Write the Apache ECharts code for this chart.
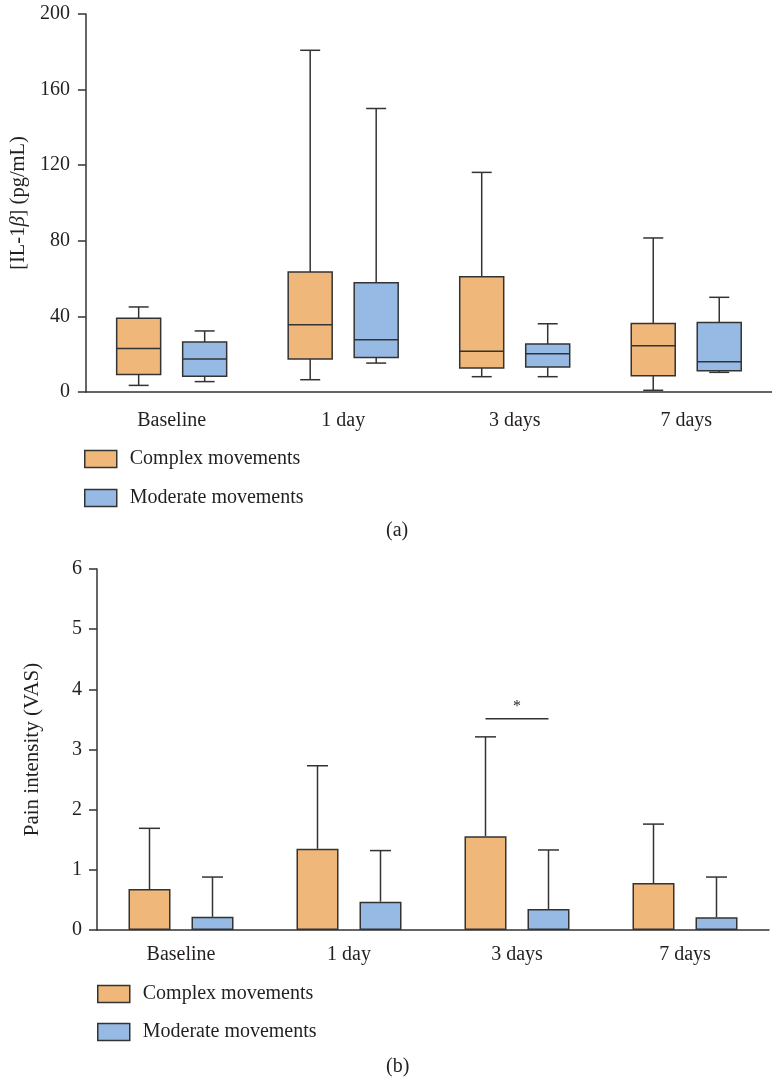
<!DOCTYPE html>
<html><head><meta charset="utf-8">
<script src="https://cdn.jsdelivr.net/npm/echarts@6/dist/echarts.min.js"></script>
<style>html,body{margin:0;padding:0;background:#fff}#c{width:772px;height:1081px}</style>
</head><body><div id="c"></div>
<script>
// ---------- data ----------
const categories = ['Baseline', '1 day', '3 days', '7 days'];
const seriesNames = ['Complex movements', 'Moderate movements'];
// IL-1β boxplots: [min, Q1, median, Q3, max]
const il1bComplex = [
  [3.5, 9.2, 23, 39, 45],
  [6.5, 17.5, 35.6, 63.5, 180.8],
  [8.1, 12.7, 21.5, 61, 116.2],
  [0.9, 8.6, 24.5, 36.3, 81.5]
];
const il1bModerate = [
  [5.5, 8.3, 17.5, 26.5, 32.3],
  [15.3, 18.2, 27.7, 57.8, 150],
  [8.1, 13.2, 20.3, 25.4, 36.1],
  [10.4, 11.3, 16, 36.8, 50.1]
];
// VAS: mean and upper error bar end
const vasComplexMean = [0.68, 1.35, 1.56, 0.78];
const vasComplexUpper = [1.69, 2.73, 3.21, 1.76];
const vasModerateMean = [0.22, 0.47, 0.35, 0.21];
const vasModerateUpper = [0.88, 1.32, 1.33, 0.88];
// significance bracket
const sigCategory = 2;
const sigLevel = 3.51;
const sigLabel = '*';
const panelLabels = ['(a)', '(b)'];

// ---------- styles ----------
const ORANGE = '#F0B77B', BLUE = '#97BAE4', INK = '#333333', TXT = '#231F20';
const FONT = 'Liberation Serif';
const FS = 20;

function boxSeries(name, data, offset, color) {
  return {
    type: 'custom', name: name, xAxisIndex: 0, yAxisIndex: 0, z: 5,
    data: data.map((d, i) => [i].concat(d)),
    encode: { x: 0, y: [1, 2, 3, 4, 5] },
    itemStyle: { color: color },
    renderItem: function (params, api) {
      const i = api.value(0);
      const p = k => api.coord([i, api.value(k)]);
      const c = p(1)[0] + offset;
      const yMin = p(1)[1], yQ1 = p(2)[1], yMed = p(3)[1], yQ3 = p(4)[1], yMax = p(5)[1];
      const hw = 22, cw = 10;
      const ls = { stroke: INK, lineWidth: 1.5 };
      return { type: 'group', children: [
        { type: 'line', shape: { x1: c, y1: yMax, x2: c, y2: yQ3 }, style: ls },
        { type: 'line', shape: { x1: c, y1: yQ1, x2: c, y2: yMin }, style: ls },
        { type: 'line', shape: { x1: c - cw, y1: yMax, x2: c + cw, y2: yMax }, style: ls },
        { type: 'line', shape: { x1: c - cw, y1: yMin, x2: c + cw, y2: yMin }, style: ls },
        { type: 'rect', shape: { x: c - hw, y: yQ3, width: 2 * hw, height: yQ1 - yQ3 }, style: { fill: color, stroke: INK, lineWidth: 1.5 } },
        { type: 'line', shape: { x1: c - hw, y1: yMed, x2: c + hw, y2: yMed }, style: ls }
      ]};
    }
  };
}

function errSeries(name, means, uppers, offset) {
  return {
    type: 'custom', name: name + ' error', xAxisIndex: 1, yAxisIndex: 1, z: 6,
    data: means.map((m, i) => [i, m, uppers[i]]),
    encode: { x: 0, y: [1, 2] },
    renderItem: function (params, api) {
      const i = api.value(0);
      const a = api.coord([i, api.value(1)]);
      const b = api.coord([i, api.value(2)]);
      const c = a[0] + offset;
      const ls = { stroke: INK, lineWidth: 1.5 };
      return { type: 'group', children: [
        { type: 'line', shape: { x1: c, y1: a[1], x2: c, y2: b[1] }, style: ls },
        { type: 'line', shape: { x1: c - 10.5, y1: b[1], x2: c + 10.5, y2: b[1] }, style: ls }
      ]};
    }
  };
}

const axisText = { fontFamily: FONT, fontSize: FS, color: TXT };
const lineSt = { color: INK, width: 1.5 };

function xAxis(grid, margin) {
  return {
    gridIndex: grid, type: 'category', data: categories,
    axisLine: { lineStyle: lineSt },
    axisTick: { alignWithLabel: true, length: 7, lineStyle: lineSt },
    axisLabel: Object.assign({ margin: margin }, axisText),
    splitLine: { show: false }
  };
}

const legendItems = [
  { name: seriesNames[0], icon: 'rect', itemStyle: { color: ORANGE, borderColor: INK, borderWidth: 1.5 } },
  { name: seriesNames[1], icon: 'rect', itemStyle: { color: BLUE, borderColor: INK, borderWidth: 1.5 } }
];
function legend(left, top, gap) {
  return {
    orient: 'vertical', left: left, top: top, padding: 0,
    itemWidth: 32, itemHeight: 17, itemGap: gap, selectedMode: false,
    data: legendItems,
    textStyle: { fontFamily: FONT, fontSize: FS, color: TXT, lineHeight: 17, padding: [0, 0, 0, 8] }
  };
}

const option = {
  animation: false,
  backgroundColor: '#fff',
  title: [
    { text: panelLabels[0], left: 386, top: 521, padding: 0, textStyle: { fontFamily: FONT, fontSize: FS, fontWeight: 'normal', color: TXT } },
    { text: panelLabels[1], left: 386, top: 1057, padding: 0, textStyle: { fontFamily: FONT, fontSize: FS, fontWeight: 'normal', color: TXT } }
  ],
  legend: [legend(84, 449, 19), legend(97, 984, 18)],
  grid: [
    { left: 84, top: 14, width: 702, height: 378 },
    { left: 97, top: 569, width: 672, height: 361 }
  ],
  xAxis: [xAxis(0, 19), xAxis(1, 15)],
  yAxis: [
    {
      gridIndex: 0, type: 'value', min: 0, max: 200, interval: 40,
      axisLine: { show: true, lineStyle: lineSt },
      axisTick: { show: true, length: 8, lineStyle: lineSt },
      splitLine: { show: false },
      axisLabel: Object.assign({ margin: 16 }, axisText),
      name: '[IL-1{i|β}] (pg/mL)', nameLocation: 'middle', nameGap: 52,
      nameTextStyle: { fontFamily: FONT, fontSize: 20.5, color: TXT, rich: { i: { fontStyle: 'italic', fontFamily: FONT, fontSize: 20.5, color: TXT } } }
    },
    {
      gridIndex: 1, type: 'value', min: 0, max: 6, interval: 1,
      axisLine: { show: true, lineStyle: lineSt },
      axisTick: { show: true, length: 8, lineStyle: lineSt },
      splitLine: { show: false },
      axisLabel: Object.assign({ margin: 15 }, axisText),
      name: 'Pain intensity (VAS)', nameLocation: 'middle', nameGap: 54,
      nameTextStyle: { fontFamily: FONT, fontSize: 21, color: TXT }
    }
  ],
  series: [
    boxSeries(seriesNames[0], il1bComplex, -33, ORANGE),
    boxSeries(seriesNames[1], il1bModerate, 33, BLUE),
    {
      type: 'bar', name: seriesNames[0], xAxisIndex: 1, yAxisIndex: 1, data: vasComplexMean,
      barWidth: 42, barGap: '50%', z: 2,
      itemStyle: { color: ORANGE, borderColor: INK, borderWidth: 1.5 }
    },
    {
      type: 'bar', name: seriesNames[1], xAxisIndex: 1, yAxisIndex: 1, data: vasModerateMean,
      barWidth: 42, barGap: '50%', z: 2,
      itemStyle: { color: BLUE, borderColor: INK, borderWidth: 1.5 }
    },
    errSeries(seriesNames[0], vasComplexMean, vasComplexUpper, -31.5),
    errSeries(seriesNames[1], vasModerateMean, vasModerateUpper, 31.5),
    {
      type: 'custom', name: 'significance', xAxisIndex: 1, yAxisIndex: 1, z: 7,
      data: [[sigCategory, sigLevel]],
      encode: { x: 0, y: 1 },
      renderItem: function (params, api) {
        const p = api.coord([api.value(0), api.value(1)]);
        return { type: 'group', children: [
          { type: 'line', shape: { x1: p[0] - 31.5, y1: p[1], x2: p[0] + 31.5, y2: p[1] }, style: { stroke: INK, lineWidth: 1.5 } },
          { type: 'text', style: { x: p[0], y: p[1] - 4, text: sigLabel, align: 'center', verticalAlign: 'bottom', fontFamily: FONT, fontSize: 16, fill: TXT } }
        ]};
      }
    }
  ]
};

const chart = echarts.init(document.getElementById('c'), null, { renderer: 'canvas' });
chart.setOption(option);
</script>
</body></html>
